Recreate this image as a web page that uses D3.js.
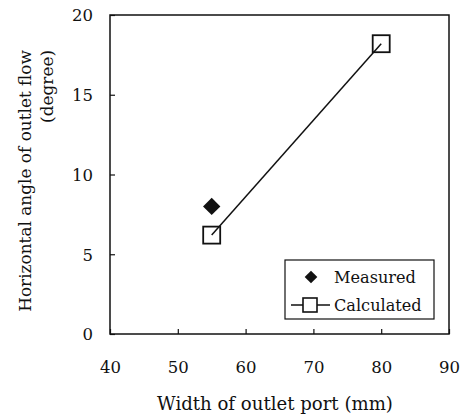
<!DOCTYPE html>
<html><head><meta charset="utf-8">
<script src="https://cdn.jsdelivr.net/npm/d3@7"></script>
<style>body{margin:0;background:#fff}svg{display:block}text{font-family:"DejaVu Serif","Liberation Serif",serif;fill:#111}</style>
</head><body>
<svg id="c" width="468" height="419"></svg>
<script>
const xTicks=[40,50,60,70,80,90];
const yTicks=[0,5,10,15,20];
const measuredX=[55];
const measuredY=[8.0];
const calcX=[55,80];
const calcY=[6.2,18.2];
const legendLabels=["Measured","Calculated"];
const xTitle="Width of outlet port (mm)";
const yTitle=["Horizontal angle of outlet flow","(degree)"];

const FONT='"DejaVu Serif","Liberation Serif",serif';
const svg=d3.select("#c");
const L=110,R=449,T=15,B=334;
const x=d3.scaleLinear().domain([40,90]).range([L,R]);
const y=d3.scaleLinear().domain([0,20]).range([B,T]);
const col="#111";

function fitSize(str,target,base){
  const t=svg.append("text").style("font-family",FONT).style("font-size",base+"px").text(str);
  const w=t.node().getComputedTextLength();t.remove();
  return (base*target/w).toFixed(2)+"px";
}
const tickFS=fitSize("20",21,16);
const legFS=fitSize("Measured",82,16);

svg.append("rect").attr("x",L).attr("y",T).attr("width",R-L).attr("height",B-T).attr("fill","none").attr("stroke",col).attr("stroke-width",1.5);

const xa=svg.append("g").attr("transform",`translate(0,${B})`).call(d3.axisBottom(x).tickValues(xTicks).tickSize(-5).tickPadding(0).tickFormat(d3.format("d")));
const ya=svg.append("g").attr("transform",`translate(${L},0)`).call(d3.axisLeft(y).tickValues(yTicks).tickSize(-5).tickPadding(17).tickFormat(d3.format("d")));
[xa,ya].forEach(a=>{a.attr("font-family",null).attr("font-size",null);a.select(".domain").remove();a.selectAll("line").attr("stroke",col).attr("stroke-width",1.2);a.selectAll("text").style("font-family",FONT).style("font-size",tickFS).attr("fill",col);});
xa.selectAll("text").attr("y",39).attr("dy",null);
ya.selectAll("text").attr("dy","0.36em");

svg.append("text").attr("x",275).attr("y",410).attr("text-anchor","middle").style("font-family",FONT).style("font-size",fitSize(xTitle,236,15)).text(xTitle);
const yFS=fitSize(yTitle[0],262,15);
svg.append("text").attr("transform",`translate(31,50) rotate(-90)`).attr("text-anchor","end").style("font-family",FONT).style("font-size",yFS).text(yTitle[0]);
svg.append("text").attr("transform",`translate(53,50) rotate(-90)`).attr("text-anchor","end").style("font-family",FONT).style("font-size",yFS).text(yTitle[1]);

const line=d3.line().x(d=>x(d[0])).y(d=>y(d[1]));
const calc=calcX.map((v,i)=>[v,calcY[i]]);
svg.append("path").datum(calc).attr("d",line).attr("fill","none").attr("stroke",col).attr("stroke-width",1.5);
const s=17;
svg.selectAll(".sq").data(calc).enter().append("rect").attr("x",d=>x(d[0])-s/2).attr("y",d=>y(d[1])-s/2).attr("width",s).attr("height",s).attr("fill","none").attr("stroke",col).attr("stroke-width",1.8);

const meas=measuredX.map((v,i)=>[v,measuredY[i]]);
svg.selectAll(".dm").data(meas).enter().append("path").attr("transform",d=>`translate(${x(d[0])},${y(d[1])}) rotate(45)`).attr("d",d3.symbol().type(d3.symbolSquare).size(150)).attr("fill",col);

const lg=svg.append("g");
lg.append("rect").attr("x",285).attr("y",260).attr("width",149).attr("height",59).attr("fill","#fff").attr("stroke",col).attr("stroke-width",1.2);
lg.append("path").attr("transform","translate(311,277) rotate(45)").attr("d",d3.symbol().type(d3.symbolSquare).size(80)).attr("fill",col);
lg.append("line").attr("x1",291).attr("x2",330).attr("y1",305).attr("y2",305).attr("stroke",col).attr("stroke-width",1.5);
lg.append("rect").attr("x",303).attr("y",298).attr("width",14).attr("height",14).attr("fill","#fff").attr("stroke",col).attr("stroke-width",1.6);
legendLabels.forEach((t,i)=>{
  lg.append("text").attr("x",334).attr("y",277+i*28).attr("dy","0.36em").style("font-family",FONT).style("font-size",legFS).text(t);
});
</script>
</body></html>
